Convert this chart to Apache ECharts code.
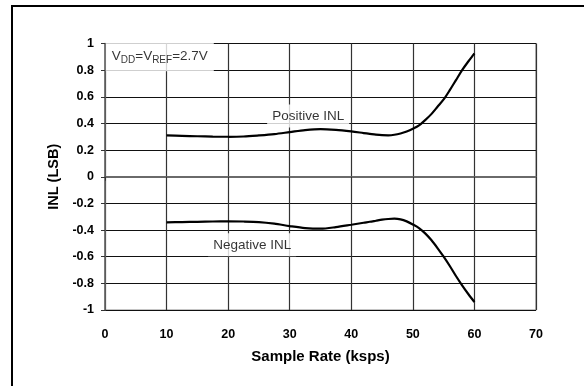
<!DOCTYPE html>
<html>
<head>
<meta charset="utf-8">
<script src="https://cdn.jsdelivr.net/npm/echarts@6/dist/echarts.min.js"></script>
<style>
  html, body { margin: 0; padding: 0; background: #fff; }
  #chart { width: 584px; height: 386px; }
</style>
</head>
<body>
<div id="chart"></div>
<script>
// INL vs. sample rate, VDD = VREF = 2.7V
const sampleRate = [10, 12.5, 15, 17.5, 20, 22.5, 25, 27.5, 30, 32.5, 35, 37.5, 40, 42, 43, 44, 45, 46, 47, 48, 49, 50, 51, 52, 53, 54, 55, 56, 57, 58, 59, 60];
const positiveInl = [0.31, 0.307, 0.304, 0.301, 0.300, 0.302, 0.31, 0.32, 0.335, 0.35, 0.358, 0.352, 0.34, 0.328, 0.322, 0.316, 0.312, 0.311, 0.315, 0.325, 0.34, 0.36, 0.385, 0.425, 0.47, 0.525, 0.58, 0.65, 0.725, 0.8, 0.865, 0.925];
const negativeInl = [-0.342, -0.34, -0.338, -0.336, -0.335, -0.336, -0.34, -0.352, -0.37, -0.385, -0.39, -0.378, -0.36, -0.345, -0.338, -0.33, -0.322, -0.317, -0.315, -0.32, -0.335, -0.358, -0.385, -0.425, -0.475, -0.535, -0.6, -0.67, -0.745, -0.815, -0.88, -0.94];

const xTicks = { min: 0, max: 70, step: 10 };
const yTicks = { min: -1, max: 1, step: 0.2 };

// Annotation text and where it sits, in data units
const notes = [
  { x: 8.9, y: 0.9, text: '{m|V}{s|DD}{m|=V}{s|REF}{m|=2.7V}', pad: [6, 6, 8, 6] },
  { x: 33, y: 0.456, text: '{m|Positive INL}', pad: [4, 5, 4, 5] },
  { x: 23.9, y: -0.51, text: '{m|Negative INL}', pad: [4, 5, 4, 5] }
];

const font = '"Liberation Sans", Arial, sans-serif';

const pair = (xs, ys) => xs.map((x, i) => [x, ys[i]]);

const chart = echarts.init(document.getElementById('chart'), null, { renderer: 'canvas' });

chart.setOption({
  animation: false,
  backgroundColor: '#fff',
  grid: {
    left: 105, right: 48, top: 43.5, bottom: 76,
    show: true, borderColor: '#8a8a8a', borderWidth: 1.2, backgroundColor: 'transparent'
  },
  graphic: [{
    type: 'rect',
    shape: { x: 12, y: 6, width: 640, height: 440 },
    style: { fill: 'none', stroke: '#000', lineWidth: 2 },
    silent: true, z: 100
  }],
  xAxis: {
    type: 'value',
    min: xTicks.min, max: xTicks.max, interval: xTicks.step,
    name: 'Sample Rate (ksps)',
    nameLocation: 'middle', nameGap: 39,
    nameTextStyle: { fontFamily: font, fontWeight: 'bold', fontSize: 15, color: '#000' },
    axisLine: { show: true, lineStyle: { color: '#6a6a6a', width: 2 } },
    axisTick: { show: true, inside: false, length: 4, lineStyle: { color: '#333', width: 1 } },
    axisLabel: { fontFamily: font, fontWeight: 'bold', fontSize: 12.5, color: '#000', margin: 18 },
    splitLine: { show: true, lineStyle: { color: '#333', width: 1.2 } }
  },
  yAxis: {
    type: 'value',
    min: yTicks.min, max: yTicks.max, interval: yTicks.step,
    name: 'INL (LSB)',
    nameLocation: 'middle', nameGap: 41,
    nameTextStyle: { fontFamily: font, fontWeight: 'bold', fontSize: 14.5, color: '#000' },
    axisLine: { show: true, lineStyle: { color: '#6a6a6a', width: 1.5 } },
    axisTick: { show: true, inside: false, length: 4, lineStyle: { color: '#333', width: 1 } },
    axisLabel: {
      fontFamily: font, fontWeight: 'bold', fontSize: 12.5, color: '#000', margin: 11,
      formatter: v => String(Math.round(v * 10) / 10)
    },
    splitLine: { show: true, lineStyle: { color: '#111', width: 1.2 } }
  },
  series: [
    {
      name: 'Notes',
      type: 'scatter',
      symbolSize: 0,
      z: 3,
      data: notes.map(n => ({
        value: [n.x, n.y],
        label: {
          show: true,
          position: 'inside',
          formatter: n.text,
          backgroundColor: '#fff',
          padding: n.pad,
          rich: {
            m: { fontFamily: font, fontSize: 13.5, color: '#000', verticalAlign: 'bottom', lineHeight: 15 },
            s: { fontFamily: font, fontSize: 10, color: '#000', verticalAlign: 'bottom', lineHeight: 15, padding: [0, 0, -2, 0] }
          }
        }
      })),
      silent: true
    },
    {
      name: 'Positive INL',
      type: 'line',
      data: pair(sampleRate, positiveInl),
      smooth: 0.3,
      showSymbol: false,
      z: 5,
      lineStyle: { color: '#000', width: 2.2 }
    },
    {
      name: 'Negative INL',
      type: 'line',
      data: pair(sampleRate, negativeInl),
      smooth: 0.3,
      showSymbol: false,
      z: 5,
      lineStyle: { color: '#000', width: 2.2 }
    }
  ]
});
</script>
</body>
</html>
